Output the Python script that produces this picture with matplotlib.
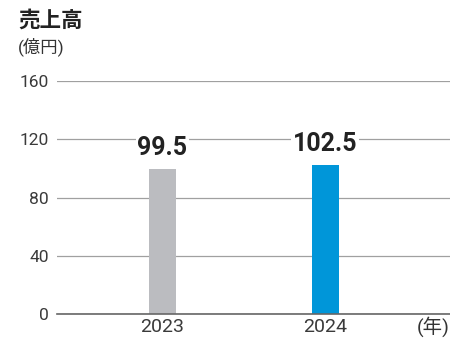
import matplotlib.pyplot as plt

plt.rcParams['font.family'] = ['Roboto', 'Noto Sans CJK JP', 'DejaVu Sans']

years = ['2023', '2024']
sales = [99.5, 102.5]
colors = ['#bbbcc0', '#0096d9']
yticks = [0, 40, 80, 120, 160]

fig = plt.figure(figsize=(4.5, 3.4), dpi=100)
ax = fig.add_axes([0.127, 0.0765, 0.873, 0.685])

x = range(len(years))
ax.bar(x, sales, width=0.166, color=colors, zorder=3)
for i, v in zip(x, sales):
    ax.text(i, v + 6, f'{v}', ha='center', va='bottom', fontsize=18,
            fontweight='bold', color='#222222', zorder=4,
            bbox=dict(facecolor='white', edgecolor='none', pad=1))

ax.set_xlim(-0.644, 1.767)
ax.set_ylim(0, 160)
ax.set_yticks(yticks)
ax.set_xticks(list(x))
ax.set_xticklabels(years, fontsize=14)
ax.tick_params(length=0, colors='#3a3a3a')
ax.tick_params(axis='y', pad=6, labelsize=12.5)
ax.tick_params(axis='x', pad=3)
ax.grid(axis='y', color='#a0a0a0', linewidth=0.9, zorder=0)
for s in ['top', 'right', 'left']:
    ax.spines[s].set_visible(False)
ax.spines['bottom'].set_color('#666666')
ax.spines['bottom'].set_linewidth(1.2)
ax.spines['bottom'].set_zorder(5)

fig.text(18 / 450, 1 - 21 / 340, '売上高', fontsize=15.5, fontweight='bold',
         color='#222222', va='center', ha='left')
fig.text(18 / 450, 1 - 47 / 340, '(億円)', fontsize=12.5, color='#333333',
         va='center', ha='left')
fig.text(450 / 450, 1 - 327 / 340, '(年)', fontsize=14, color='#333333',
         va='center', ha='right')

fig.savefig('out.png', dpi=100)
